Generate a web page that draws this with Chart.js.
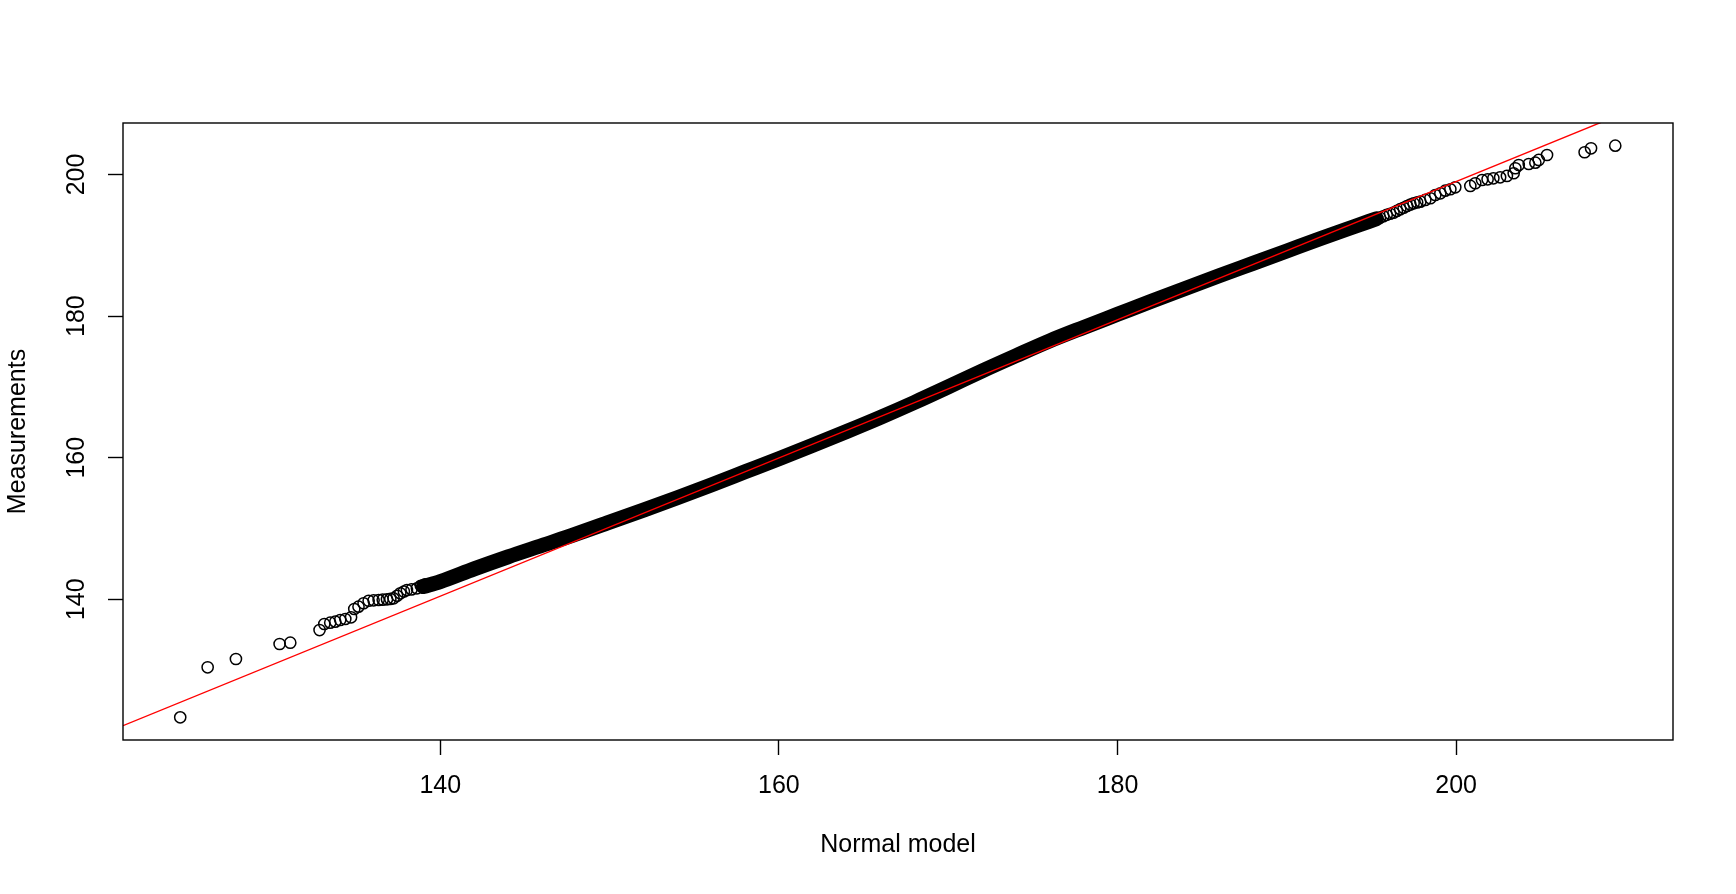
<!DOCTYPE html>
<html>
<head>
<meta charset="utf-8">
<title>Normal QQ plot</title>
<script src="https://cdn.jsdelivr.net/npm/chart.js@4/dist/chart.umd.min.js"></script>
<style>
	html, body { margin: 0; padding: 0; background: #fff; overflow: hidden; }
	#wrap { position: relative; width: 1736px; height: 894px; }
</style>
</head>
<body>
<div id="wrap"><canvas id="qqChart"></canvas></div>
<script>
// dense middle of the sample, read along the centre of the black band
const bandX = [139.0, 140, 142, 144, 146, 148, 150, 152, 154, 156, 158, 160, 162, 164, 166, 168, 170, 172, 174, 176, 178, 180, 182, 184, 186, 188, 190, 192, 194, 195.3]
const bandY = [141.8, 142.5, 144.3, 146.0, 147.6, 149.2, 150.9, 152.6, 154.35, 156.15, 158.0, 159.85, 161.75, 163.7, 165.7, 167.8, 170.0, 172.25, 174.4, 176.5, 178.4, 180.25, 182.1, 183.9, 185.7, 187.45, 189.2, 190.95, 192.65, 193.75]

// sparse tails, one circle each
const lowTailX = [124.64, 126.26, 127.93, 130.51, 131.14, 132.87, 133.15, 133.50, 133.80, 134.09, 134.39, 134.73, 134.92, 135.17, 135.47, 135.77, 136.06, 136.36, 136.60, 136.85, 137.05, 137.24, 137.45, 137.64, 137.85, 138.03, 138.30, 138.62, 138.85, 139.1]
const lowTailY = [123.33, 130.40, 131.57, 133.69, 133.87, 135.66, 136.51, 136.70, 136.84, 137.08, 137.22, 137.46, 138.63, 138.96, 139.44, 139.80, 139.85, 139.90, 139.95, 140.00, 140.05, 140.14, 140.50, 140.85, 141.10, 141.31, 141.40, 141.55, 141.9, 142.1]
const highTailX = [195.5, 195.7, 195.9, 196.1, 196.3, 196.5, 196.7, 196.9, 197.1, 197.3, 197.49, 197.7, 197.89, 198.18, 198.48, 198.77, 199.07, 199.36, 199.66, 199.95, 200.84, 201.13, 201.53, 201.86, 202.2, 202.6, 203.0, 203.4, 203.5, 203.7, 204.29, 204.68, 204.88, 205.37, 207.59, 207.97, 209.40]
const highTailY = [193.9, 194.1, 194.3, 194.45, 194.6, 194.85, 195.1, 195.3, 195.55, 195.75, 195.93, 196.05, 196.16, 196.4, 196.64, 197.1, 197.34, 197.71, 197.91, 198.19, 198.38, 198.76, 199.22, 199.32, 199.46, 199.6, 199.79, 200.17, 200.88, 201.34, 201.48, 201.67, 202.05, 202.75, 203.14, 203.70, 204.07]

// qqline through the quartiles
const lineIntercept = 3.80
const lineSlope = 0.976

const xTicks = [140, 160, 180, 200]
const yTicks = [140, 160, 180, 200]
const xRange = [121.26, 212.81]
const yRange = [120.13, 207.27]

const fontFamily = '"Liberation Sans", Arial, Helvetica, sans-serif'

function pairs(xs, ys) {
	return xs.map((x, i) => ({ x: x, y: ys[i] }))
}

const refLine = xRange.map(x => ({ x: x, y: lineIntercept + lineSlope * x }))

// R style box round the plot region
const boxPlugin = {
	id: 'box',
	afterDatasetsDraw(chart) {
		const a = chart.chartArea
		const ctx = chart.ctx
		ctx.save()
		ctx.strokeStyle = '#000'
		ctx.lineWidth = 1.4
		ctx.strokeRect(a.left, a.top, a.right - a.left, a.bottom - a.top)
		ctx.restore()
	}
}

const ctx = document.getElementById('qqChart')
var chart = new Chart(ctx, {
	type: 'scatter',
	data: {
		datasets: [{
			label: 'qqline',
			data: refLine,
			showLine: true,
			borderColor: '#ff0000',
			borderWidth: 1.4,
			pointRadius: 0
		}, {
			label: 'band',
			data: pairs(bandX, bandY),
			showLine: true,
			borderColor: '#000',
			borderWidth: 15,
			borderCapStyle: 'round',
			borderJoinStyle: 'round',
			cubicInterpolationMode: 'monotone',
			pointRadius: 0
		}, {
			label: 'tails',
			data: pairs(lowTailX, lowTailY).concat(pairs(highTailX, highTailY)),
			pointStyle: 'circle',
			pointRadius: 5.6,
			borderWidth: 1.5,
			borderColor: '#000',
			backgroundColor: 'rgba(0,0,0,0)'
		}]
	},
	options: {
		responsive: true,
		maintainAspectRatio: false,
		animation: false,
		layout: {
			padding: { left: 0, top: 123, right: 63, bottom: 0 }
		},
		plugins: {
			legend: { display: false },
			tooltip: { enabled: false }
		},
		scales: {
			x: {
				type: 'linear',
				min: xRange[0],
				max: xRange[1],
				afterBuildTicks: scale => { scale.ticks = xTicks.map(v => ({ value: v })) },
				afterFit: scale => { scale.height = 154 },
				border: { display: false },
				grid: {
					drawOnChartArea: false,
					drawTicks: true,
					tickLength: 15,
					tickColor: '#000',
					tickWidth: 1.4
				},
				ticks: {
					color: '#000',
					padding: 16,
					maxRotation: 0,
					font: { family: fontFamily, size: 25 }
				},
				title: {
					display: true,
					text: 'Normal model',
					color: '#000',
					font: { family: fontFamily, size: 25, lineHeight: 1.2 },
					padding: { top: 0, bottom: 34 }
				}
			},
			y: {
				type: 'linear',
				min: yRange[0],
				max: yRange[1],
				afterBuildTicks: scale => { scale.ticks = yTicks.map(v => ({ value: v })) },
				afterFit: scale => { scale.width = 123 },
				border: { display: false },
				grid: {
					drawOnChartArea: false,
					drawTicks: true,
					tickLength: 15,
					tickColor: '#000',
					tickWidth: 1.4
				},
				ticks: {
					color: '#000',
					padding: 10,
					minRotation: 90,
					maxRotation: 90,
					crossAlign: 'center',
					font: { family: fontFamily, size: 25 }
				},
				title: {
					display: true,
					text: 'Measurements',
					color: '#000',
					font: { family: fontFamily, size: 25, lineHeight: 1.2 },
					padding: { top: 3, bottom: 0 }
				}
			}
		}
	},
	plugins: [boxPlugin]
})
</script>
</body>
</html>
